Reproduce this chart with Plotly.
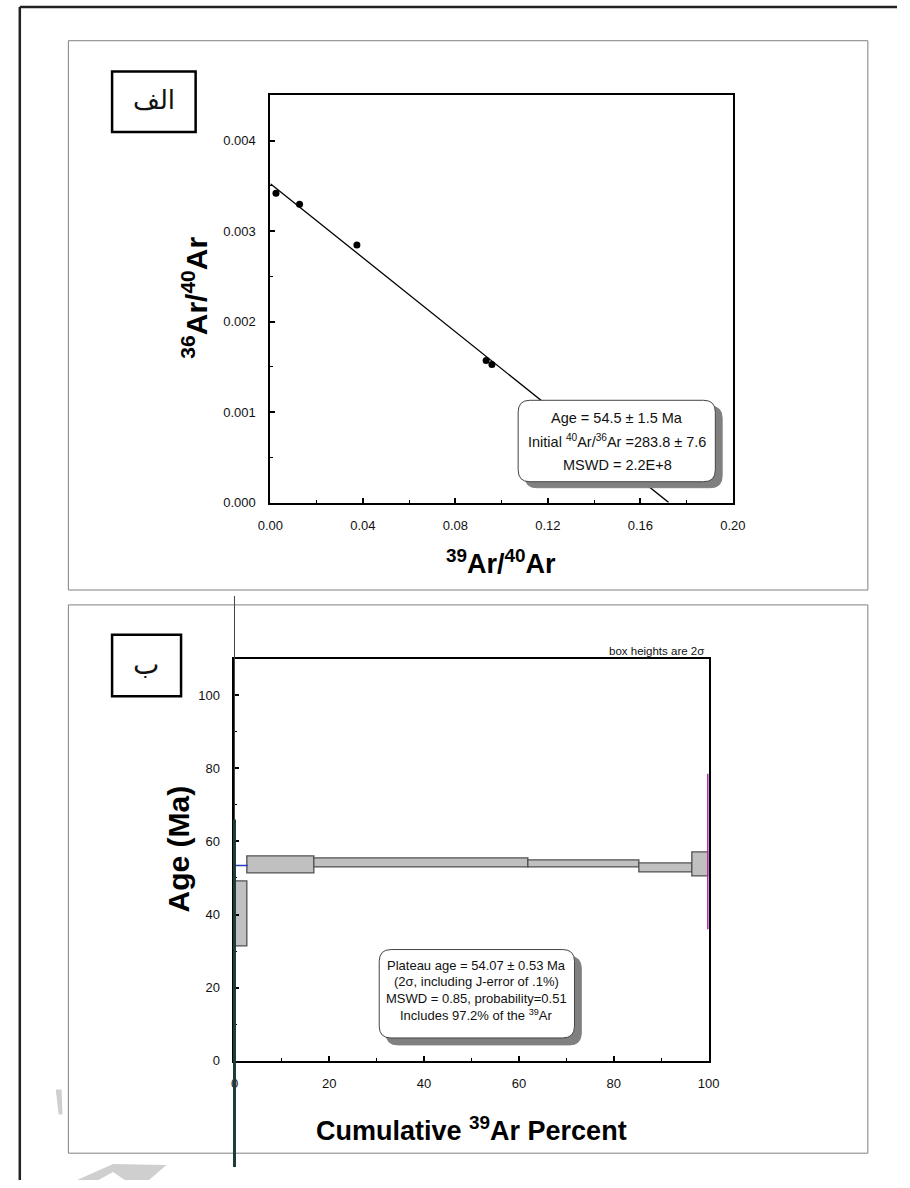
import plotly.graph_objects as go

W, H = 910, 1188
FONT = "Liberation Sans, Arial, sans-serif"

# ---- Inverse isochron data (39Ar/40Ar vs 36Ar/40Ar) ----
ar39_ar40 = [0.0024, 0.0126, 0.0374, 0.0933, 0.0958]
ar36_ar40 = [0.003418, 0.003297, 0.002846, 0.001570, 0.001527]
initial_ratio = 283.8          # trapped 40Ar/36Ar
x_intercept = 0.1723           # 39Ar/40Ar at 36Ar/40Ar = 0

# ---- Age spectrum steps ----
cum_start = [0.0, 2.8, 16.9, 62.1, 85.4, 96.7]
cum_end = [2.8, 16.9, 62.1, 85.4, 96.7, 100.0]
step_age = [40.1, 53.45, 54.15, 53.75, 52.8, 53.65]
step_err = [8.9, 2.35, 1.25, 0.95, 1.2, 3.25]
plateau_marker = 53.4
right_line = [78.5, 36.0]


def px(x):
    return x / W


def py(y):
    return 1 - y / H


fig = go.Figure()

# isochron fit line, drawn from its two intercepts
fig.add_trace(go.Scatter(
    x=[0, x_intercept], y=[1 / initial_ratio, 0], mode="lines",
    line=dict(color="black", width=1.3), xaxis="x", yaxis="y",
    showlegend=False, hoverinfo="skip"))
fig.add_trace(go.Scatter(
    x=ar39_ar40, y=ar36_ar40, mode="markers",
    marker=dict(color="black", size=7), xaxis="x", yaxis="y",
    showlegend=False))

# plateau steps as floating bars (height = 2 sigma)
centers = [(a + b) / 2 for a, b in zip(cum_start, cum_end)]
widths = [b - a for a, b in zip(cum_start, cum_end)]
lows = [a - e for a, e in zip(step_age, step_err)]
heights = [2 * e for e in step_err]
fig.add_trace(go.Bar(
    x=centers, width=widths, base=lows, y=heights,
    marker=dict(color="#c0c0c0", line=dict(color="#505050", width=1.3)),
    xaxis="x2", yaxis="y2", showlegend=False))
fig.add_trace(go.Scatter(
    x=[cum_start[0], cum_end[0]], y=[plateau_marker, plateau_marker],
    mode="lines", line=dict(color="#2a3fbf", width=1.6),
    xaxis="x2", yaxis="y2", showlegend=False, hoverinfo="skip"))

axis_common = dict(
    showline=True, linecolor="black", linewidth=2, mirror=True,
    ticks="inside", ticklen=5, tickwidth=1.5, tickcolor="black",
    showgrid=False, zeroline=False,
    tickfont=dict(family=FONT, size=13, color="#111"),
    ticklabelstandoff=10,
)

fig.update_layout(
    width=W, height=H, autosize=False,
    margin=dict(l=0, r=0, t=0, b=0),
    paper_bgcolor="white", plot_bgcolor="white",
    font=dict(family=FONT, size=13, color="#111"),
    bargap=0,
    xaxis=dict(axis_common, domain=[px(265), px(741)], range=[0, 0.2],
               dtick=0.04, tickformat=".2f", anchor="y",
               minor=dict(ticks="inside", ticklen=3, dtick=0.02,
                          tickcolor="black", tickwidth=1.2)),
    yaxis=dict(axis_common, domain=[py(506), py(96)], range=[0, 0.0045],
               dtick=0.001, tickformat=".3f", anchor="x",
               minor=dict(ticks="inside", ticklen=3, dtick=0.0005,
                          tickcolor="black", tickwidth=1.2)),
    xaxis2=dict(axis_common, domain=[px(228), px(716)], range=[0, 100],
                dtick=20, anchor="y2",
                minor=dict(ticks="inside", ticklen=3, dtick=10,
                           tickcolor="black", tickwidth=1.2)),
    yaxis2=dict(axis_common, domain=[py(1068), py(663)], range=[0, 110],
                dtick=20, anchor="x2",
                minor=dict(ticks="inside", ticklen=3, dtick=10,
                           tickcolor="black", tickwidth=1.2)),
)

shapes = []


def rect(x0, y0, x1, y1, color, width, fill=None, layer="above"):
    shapes.append(dict(type="rect", xref="paper", yref="paper",
                       x0=px(x0), x1=px(x1), y0=py(y1), y1=py(y0),
                       line=dict(color=color, width=width),
                       fillcolor=fill or "rgba(0,0,0,0)", layer=layer))


def line(x0, y0, x1, y1, color, width, layer="above"):
    shapes.append(dict(type="line", xref="paper", yref="paper",
                       x0=px(x0), x1=px(x1), y0=py(y0), y1=py(y1),
                       line=dict(color=color, width=width), layer=layer))


def rounded(x0, y0, x1, y1, r, fill, lc, lw):
    pts = [
        f"M {px(x0 + r)} {py(y0)}",
        f"L {px(x1 - r)} {py(y0)}",
        f"Q {px(x1)} {py(y0)} {px(x1)} {py(y0 + r)}",
        f"L {px(x1)} {py(y1 - r)}",
        f"Q {px(x1)} {py(y1)} {px(x1 - r)} {py(y1)}",
        f"L {px(x0 + r)} {py(y1)}",
        f"Q {px(x0)} {py(y1)} {px(x0)} {py(y1 - r)}",
        f"L {px(x0)} {py(y0 + r)}",
        f"Q {px(x0)} {py(y0)} {px(x0 + r)} {py(y0)} Z",
    ]
    shapes.append(dict(type="path", xref="paper", yref="paper",
                       path=" ".join(pts), fillcolor=fill,
                       line=dict(color=lc, width=lw), layer="above"))


# page border and panel frames
line(7, 7, 910, 7, "#222", 2.5, "below")
line(7, 7, 7, 1188, "#222", 2.5, "below")
rect(57, 41, 880, 594, "#808080", 1, layer="below")
rect(57, 609, 880, 1161, "#808080", 1, layer="below")

# faint mark in the lower-left corner
shapes.append(dict(type="path", xref="paper", yref="paper",
                   path=f"M {px(44)} {py(1097)} L {px(50)} {py(1097)} "
                        f"L {px(51)} {py(1122)} L {px(47)} {py(1122)} Z",
                   fillcolor="#cfcfcf", line=dict(width=0), layer="below"))
shapes.append(dict(type="path", xref="paper", yref="paper",
                   path=f"M {px(66)} {py(1188)} L {px(103)} {py(1172)} "
                        f"L {px(158)} {py(1173)} L {px(140)} {py(1188)} "
                        f"L {px(115)} {py(1188)} L {px(103)} {py(1180)} "
                        f"L {px(88)} {py(1188)} Z",
                   fillcolor="#cfcfcf", line=dict(width=0), layer="below"))

# panel label boxes
rect(102, 72, 188, 133, "black", 2.5)
rect(102, 639, 173, 701, "black", 2.5)

# vertical guide lines of the age spectrum
line(228, 600, 228, 1175, "#444", 1)
line(228, 825, 228, 1175, "#1e3b3b", 3)
shapes.append(dict(type="line", xref="x2", yref="y2", x0=100, x1=100,
                   y0=right_line[1], y1=right_line[0],
                   line=dict(color="#b02aa8", width=3), layer="above"))

# result boxes with drop shadows
rounded(527, 409, 730, 491, 12, "#808080", "#808080", 1)
rounded(520, 403, 723, 485, 12, "white", "#444", 1)
rounded(384, 963, 585, 1052, 12, "#808080", "#808080", 1)
rounded(377, 956, 578, 1045, 12, "white", "#444", 1)

fig.update_layout(shapes=shapes)

ann = []


def text(x, y, s, size, angle=0, family=FONT, xanchor="center", color="#111"):
    ann.append(dict(xref="paper", yref="paper", x=px(x), y=py(y), text=s,
                    showarrow=False, textangle=angle, xanchor=xanchor,
                    yanchor="middle",
                    font=dict(family=family, size=size, color=color)))


text(145, 101, "الف", 26, family="DejaVu Sans")
text(137, 669, "ب", 28, family="DejaVu Sans")

text(187, 300, "<b><sup>36</sup>Ar/<sup>40</sup>Ar</b>", 30, angle=-90, color="black")
text(502, 566, "<b><sup>39</sup>Ar/<sup>40</sup>Ar</b>", 27, color="black")
text(170, 855, "<b>Age (Ma)</b>", 30, angle=-90, color="black")
text(472, 1137, "<b>Cumulative <sup>39</sup>Ar Percent</b>", 27, color="black")

text(622, 421, "Age = 54.5 ± 1.5 Ma", 14.5)
text(622, 444, "Initial <sup>40</sup>Ar/<sup>36</sup>Ar =283.8 ± 7.6", 14.5)
text(622, 468, "MSWD = 2.2E+8", 14.5)

text(477, 972, "Plateau age = 54.07 ± 0.53 Ma", 13)
text(477, 988, "(2σ, including J-error of .1%)", 13)
text(477, 1005, "MSWD = 0.85, probability=0.51", 13)
text(477, 1022, "Includes 97.2% of the <sup>39</sup>Ar", 13)

text(713, 655, "box heights are 2σ", 11.5, xanchor="right")

fig.update_layout(annotations=ann)

fig.write_html("out.html")
